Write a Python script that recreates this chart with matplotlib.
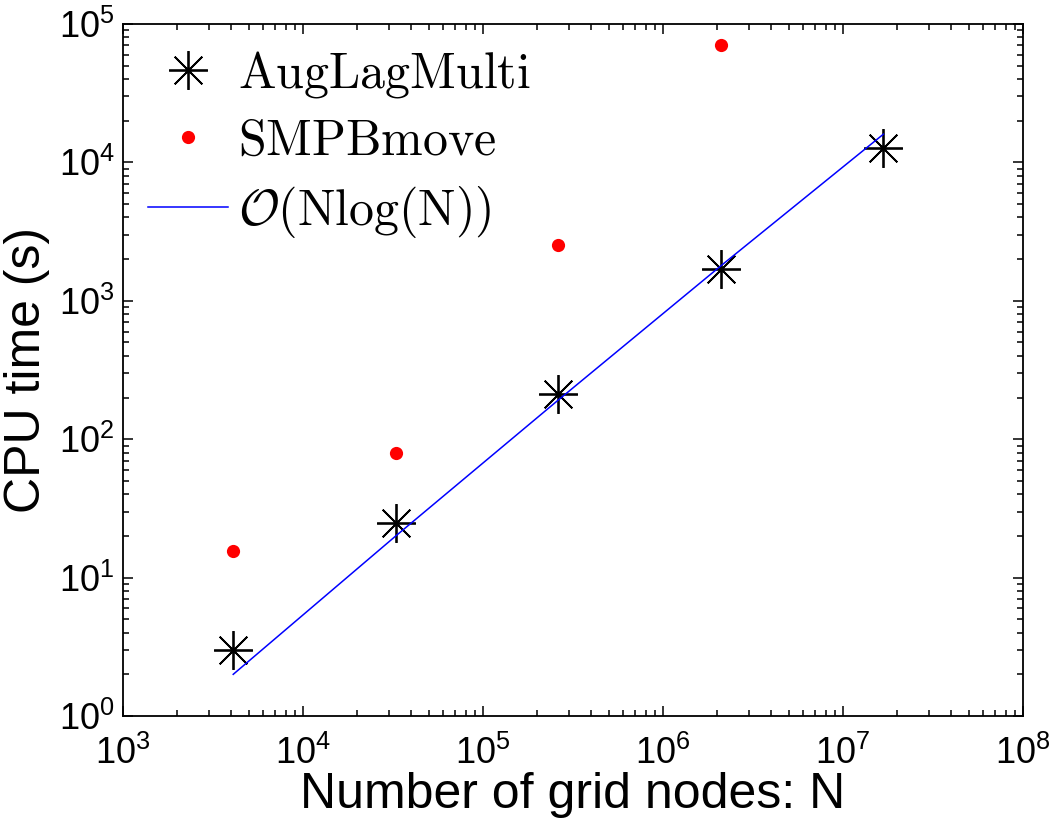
import matplotlib
matplotlib.use("Agg")
import matplotlib.pyplot as plt
from matplotlib.font_manager import FontProperties

plt.rcParams['font.family'] = ['Liberation Sans', 'DejaVu Sans']
plt.rcParams['mathtext.fontset'] = 'cm'

# Data
grid_nodes = [4096, 32768, 262144, 2097152, 16777216]
auglag_time = [3.0, 25, 212, 1700, 12800]
smpb_nodes = [4096, 32768, 262144, 2097152]
smpb_time = [15.5, 80, 2550, 71000]
ref_nodes = [4096, 32768, 262144, 2097152, 16777216]
ref_time = [2.0, 20.0, 192, 1790, 16000]

labels = [r'$\mathrm{AugLagMulti}$', r'$\mathrm{SMPBmove}$',
          r'$\mathcal{O}(\mathrm{Nlog(N)})$']

fig = plt.figure(figsize=(10.5, 8.3), dpi=100)
ax = fig.add_axes([123/1050, 114/830, 900/1050, 692/830])

ax.loglog(grid_nodes, auglag_time, linestyle='none', marker=(8, 2, 0),
          markersize=28, markeredgewidth=1.3, color='black', label=labels[0])
ax.loglog(smpb_nodes, smpb_time, linestyle='none', marker='o',
          markersize=9.5, color='red', markeredgewidth=0, label=labels[1])
ax.loglog(ref_nodes, ref_time, color='blue', linewidth=1.1, label=labels[2])

ax.set_xlim(1e3, 1e8)
ax.set_ylim(1e0, 1e5)

for s in ax.spines.values():
    s.set_linewidth(1.3)
ax.tick_params(which='both', direction='in', top=True, right=True, width=1.1)
ax.tick_params(which='major', length=7, labelsize=26)
ax.tick_params(which='minor', length=4)
ax.tick_params(axis='x', which='major', pad=14)
ax.tick_params(axis='y', which='major', pad=6)

ax.set_xlabel('Number of grid nodes: N', fontsize=36, labelpad=0)
ax.set_ylabel('CPU time (s)', fontsize=36, labelpad=6)

prop = FontProperties(size=36, math_fontfamily='cm')
leg = ax.legend(loc='upper left', frameon=False, prop=prop,
                handlelength=1.6, handletextpad=0.2, labelspacing=0.38,
                borderaxespad=0.2, borderpad=0.3, numpoints=1)

fig.savefig('out.png', dpi=100)
